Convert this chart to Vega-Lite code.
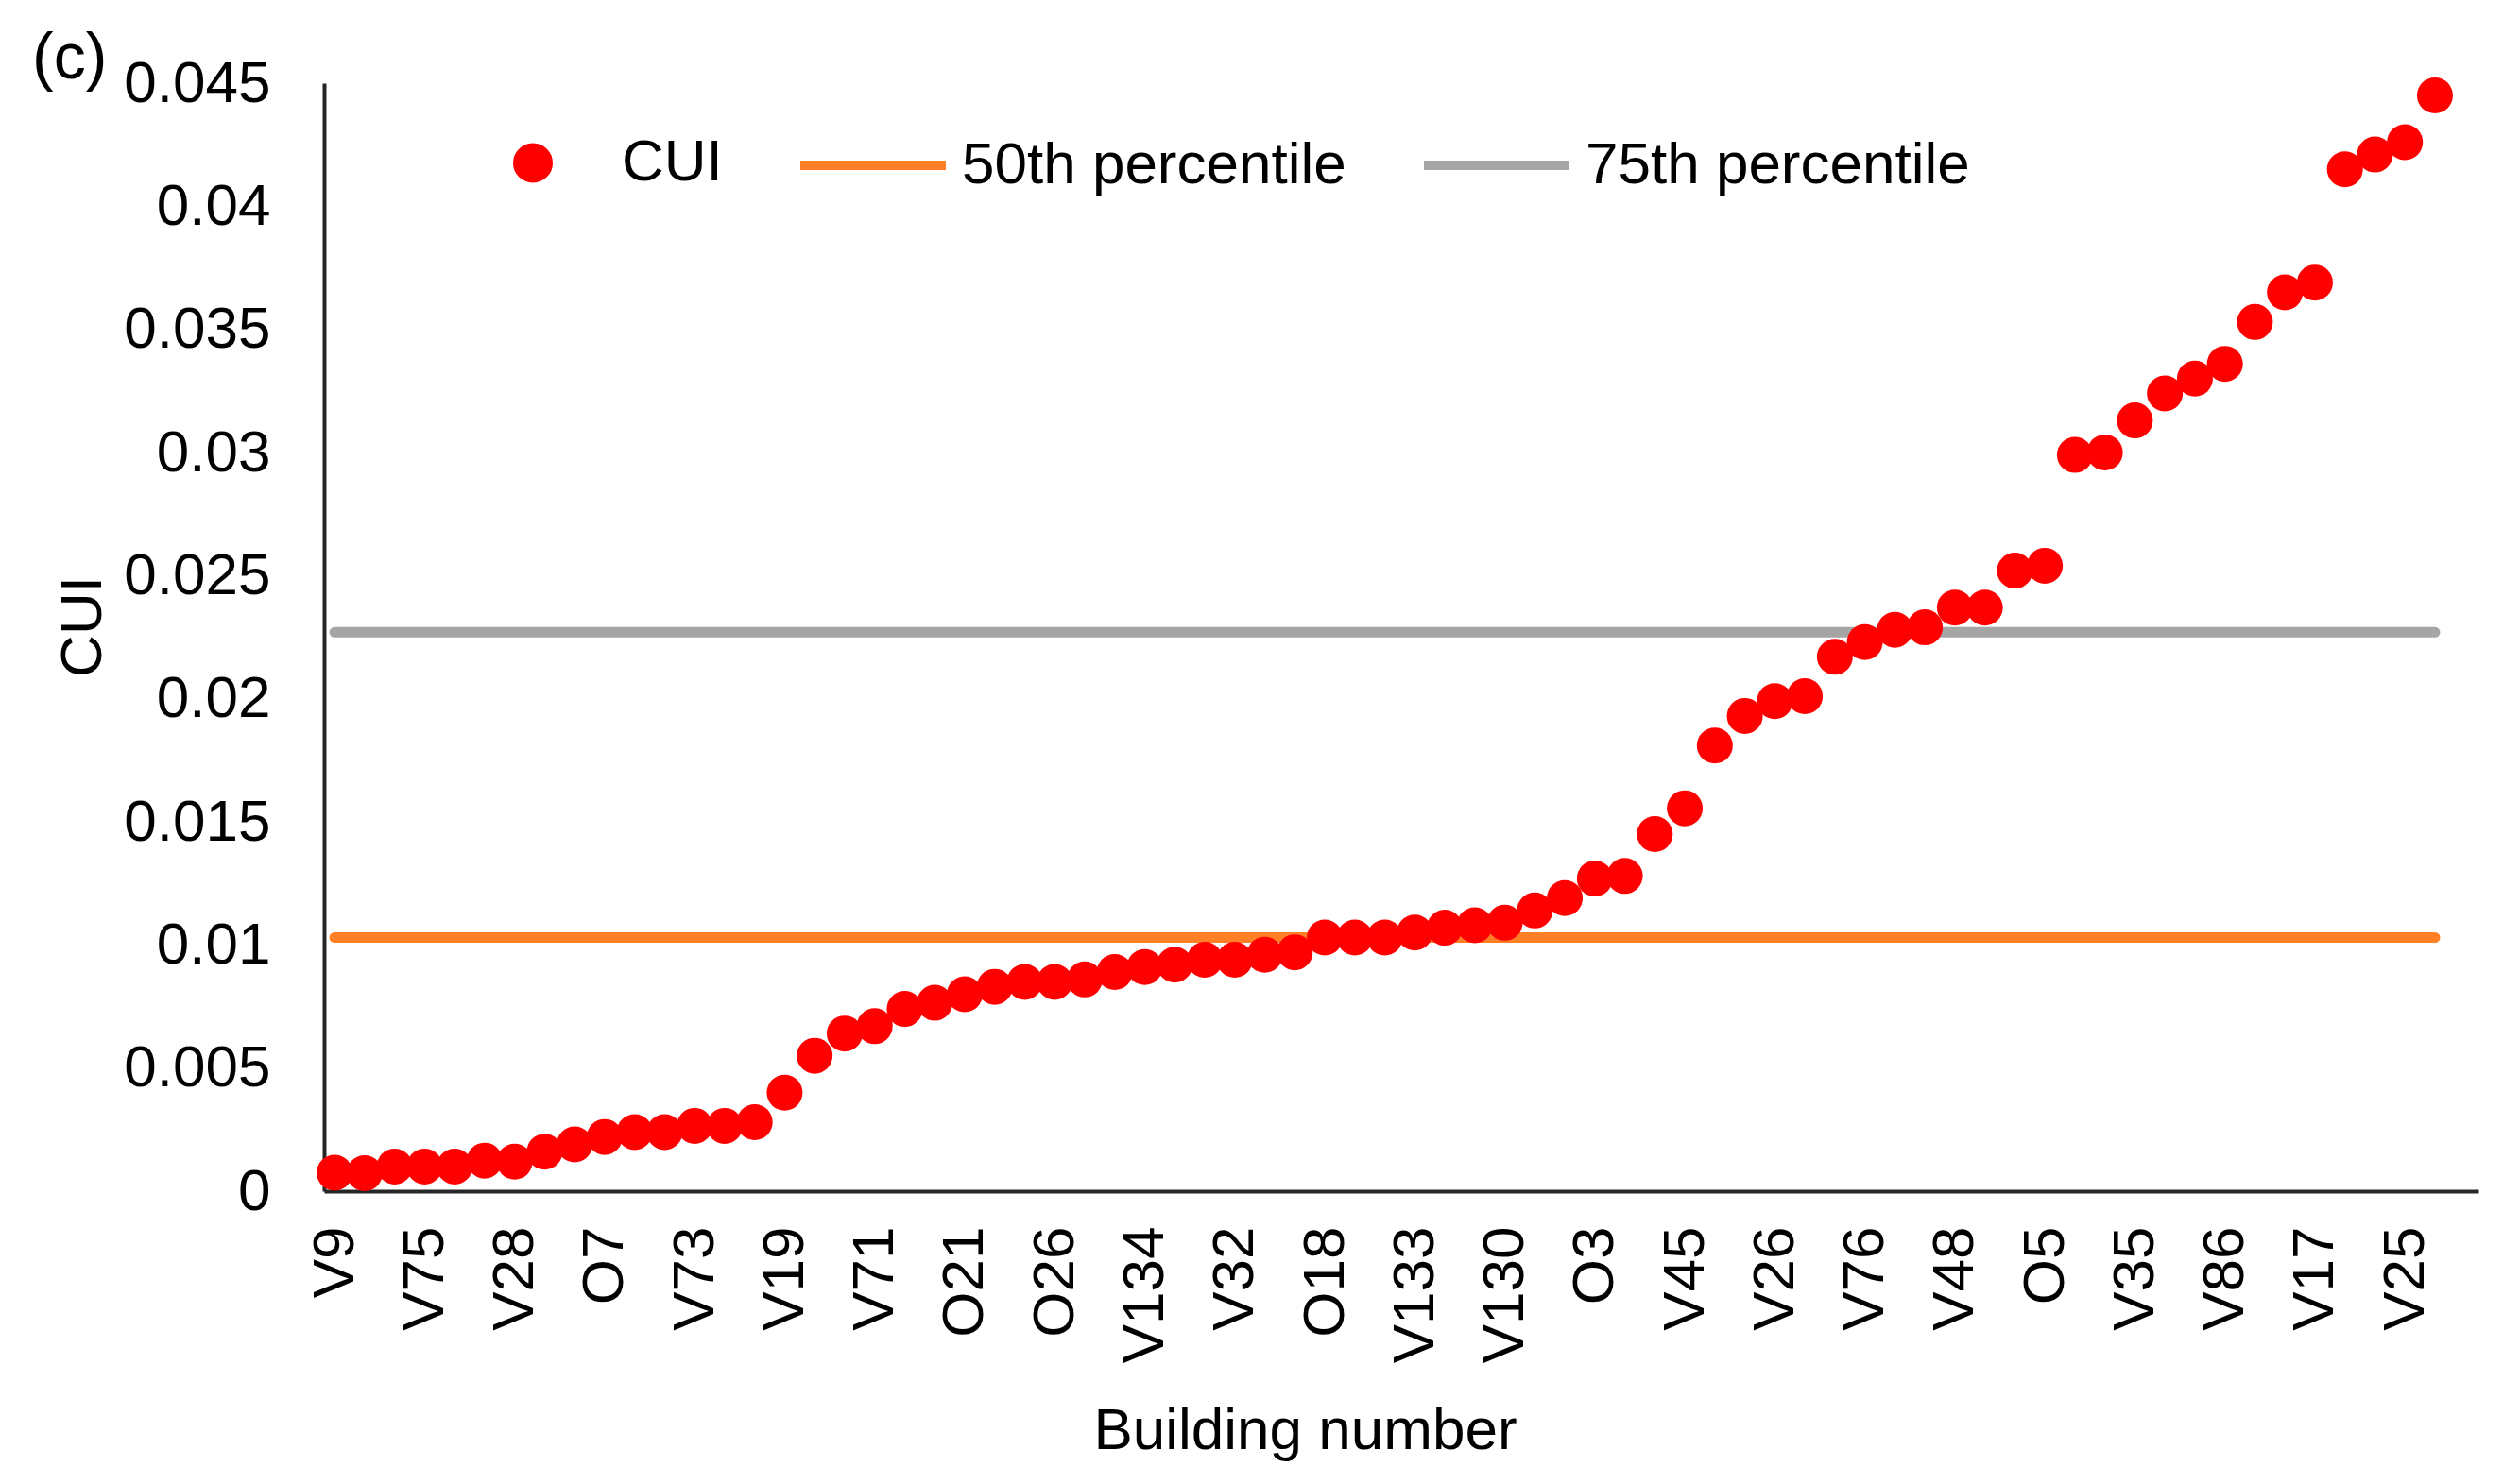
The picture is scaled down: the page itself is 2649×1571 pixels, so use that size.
{
  "$schema": "https://vega.github.io/schema/vega-lite/v6.json",
  "width": 2280,
  "height": 1173,
  "autosize": {"type": "none"},
  "padding": {"left": 343, "top": 88, "right": 26, "bottom": 310},
  "background": "white",
  "title": {"text": "(c)", "anchor": "start", "frame": "group", "dx": -309, "dy": 94, "offset": 0, "fontSize": 68, "font": "Liberation Sans", "fontWeight": "normal", "color": "#000000", "baseline": "alphabetic"},
  "config": {
    "view": {"stroke": null},
    "axis": {"grid": false, "ticks": false, "domainColor": "#262626", "domainWidth": 4, "labelFont": "Liberation Sans", "labelFontSize": 62, "labelColor": "#000000", "titleFont": "Liberation Sans", "titleFontSize": 62, "titleFontWeight": "normal", "titleColor": "#000000", "labelOverlap": false, "labelFlush": false, "labelBound": false}
  },
  "datasets": {
    "cui": [
      {"idx": 0, "building": "V9", "cui": 0.00075},
      {"idx": 1, "cui": 0.00073},
      {"idx": 2, "cui": 0.001},
      {"idx": 3, "building": "V75", "cui": 0.001},
      {"idx": 4, "cui": 0.001},
      {"idx": 5, "cui": 0.00124},
      {"idx": 6, "building": "V28", "cui": 0.0012},
      {"idx": 7, "cui": 0.0016},
      {"idx": 8, "cui": 0.0019},
      {"idx": 9, "building": "O7", "cui": 0.0022},
      {"idx": 10, "cui": 0.0024},
      {"idx": 11, "cui": 0.0024},
      {"idx": 12, "building": "V73", "cui": 0.00265},
      {"idx": 13, "cui": 0.00265},
      {"idx": 14, "cui": 0.0028},
      {"idx": 15, "building": "V19", "cui": 0.0040},
      {"idx": 16, "cui": 0.0055},
      {"idx": 17, "cui": 0.0064},
      {"idx": 18, "building": "V71", "cui": 0.0067},
      {"idx": 19, "cui": 0.0074},
      {"idx": 20, "cui": 0.00765},
      {"idx": 21, "building": "O21", "cui": 0.008},
      {"idx": 22, "cui": 0.0083},
      {"idx": 23, "cui": 0.0085},
      {"idx": 24, "building": "O26", "cui": 0.0085},
      {"idx": 25, "cui": 0.0086},
      {"idx": 26, "cui": 0.0089},
      {"idx": 27, "building": "V134", "cui": 0.0091},
      {"idx": 28, "cui": 0.0092},
      {"idx": 29, "cui": 0.0094},
      {"idx": 30, "building": "V32", "cui": 0.0094},
      {"idx": 31, "cui": 0.0096},
      {"idx": 32, "cui": 0.0097},
      {"idx": 33, "building": "O18", "cui": 0.0103},
      {"idx": 34, "cui": 0.0103},
      {"idx": 35, "cui": 0.0103},
      {"idx": 36, "building": "V133", "cui": 0.0105},
      {"idx": 37, "cui": 0.0107},
      {"idx": 38, "cui": 0.0108},
      {"idx": 39, "building": "V130", "cui": 0.0109},
      {"idx": 40, "cui": 0.0114},
      {"idx": 41, "cui": 0.0119},
      {"idx": 42, "building": "O3", "cui": 0.0127},
      {"idx": 43, "cui": 0.0128},
      {"idx": 44, "cui": 0.0145},
      {"idx": 45, "building": "V45", "cui": 0.01555},
      {"idx": 46, "cui": 0.0181},
      {"idx": 47, "cui": 0.0193},
      {"idx": 48, "building": "V26", "cui": 0.0199},
      {"idx": 49, "cui": 0.0201},
      {"idx": 50, "cui": 0.0217},
      {"idx": 51, "building": "V76", "cui": 0.0223},
      {"idx": 52, "cui": 0.0228},
      {"idx": 53, "cui": 0.0229},
      {"idx": 54, "building": "V48", "cui": 0.0237},
      {"idx": 55, "cui": 0.0237},
      {"idx": 56, "cui": 0.0252},
      {"idx": 57, "building": "O5", "cui": 0.0254},
      {"idx": 58, "cui": 0.0299},
      {"idx": 59, "cui": 0.03},
      {"idx": 60, "building": "V35", "cui": 0.0313},
      {"idx": 61, "cui": 0.0324},
      {"idx": 62, "cui": 0.0330},
      {"idx": 63, "building": "V86", "cui": 0.0336},
      {"idx": 64, "cui": 0.0353},
      {"idx": 65, "cui": 0.0365},
      {"idx": 66, "building": "V17", "cui": 0.0369},
      {"idx": 67, "cui": 0.0415},
      {"idx": 68, "cui": 0.0421},
      {"idx": 69, "building": "V25", "cui": 0.0426},
      {"idx": 70, "cui": 0.0445}
    ],
    "pct": [
      {"series": "50th percentile", "value": 0.0103},
      {"series": "75th percentile", "value": 0.0227}
    ]
  },
  "layer": [
    {
      "data": {"name": "pct"},
      "mark": {"type": "rule", "strokeWidth": 11, "strokeCap": "round"},
      "encoding": {
        "x": {"datum": 0, "type": "quantitative",
          "scale": {"domain": [-0.35, 71.45], "nice": false, "zero": false},
          "axis": {"title": "Building number", "values": [0,3,6,9,12,15,18,21,24,27,30,33,36,39,42,45,48,51,54,57,60,63,66,69],
            "labelExpr": "['V9','V75','V28','O7','V73','V19','V71','O21','O26','V134','V32','O18','V133','V130','O3','V45','V26','V76','V48','O5','V35','V86','V17','V25'][round(datum.value/3)]",
            "labelAngle": -90, "labelAlign": "right", "labelBaseline": "middle", "labelPadding": 37,
            "titleX": 1038, "titleY": 272, "titleAlign": "center", "titleBaseline": "alphabetic"}},
        "x2": {"datum": 70},
        "y": {"field": "value", "type": "quantitative",
          "scale": {"domain": [0, 0.045], "nice": false, "zero": true},
          "axis": {"title": "CUI", "values": [0,0.005,0.01,0.015,0.02,0.025,0.03,0.035,0.04,0.045], "format": ".3~f",
            "labelPadding": 57, "titleX": -256, "titleY": 575, "titleAngle": -90, "titleAlign": "center", "titleBaseline": "middle"}},
        "color": {"field": "series", "type": "nominal",
          "scale": {"domain": ["CUI", "50th percentile", "75th percentile"], "range": ["#FF0000", "#FF7F27", "#A5A5A5"]},
          "legend": {"title": null, "orient": "none", "legendX": 139, "legendY": 2, "direction": "horizontal", "padding": 0,
            "labelFont": "Liberation Sans", "labelFontSize": 62, "labelColor": "#000000", "labelOffset": 12, "labelLimit": 0,
            "columnPadding": 62, "symbolType": "stroke", "symbolSize": 23716, "symbolStrokeWidth": 10,
            "encode": {"symbols": {"update": {
              "shape": {"signal": "datum.value === 'CUI' ? 'M-0.2078,0A0.2078,0.2078 0 1,1 0.2078,0A0.2078,0.2078 0 1,1 -0.2078,0Z' : 'stroke'"},
              "fill": {"signal": "datum.value === 'CUI' ? '#FF0000' : 'transparent'"},
              "stroke": {"signal": "datum.value === 'CUI' ? 'transparent' : scale('color', datum.value)"},
              "opacity": {"value": 1}
            }}}}}
      }
    },
    {
      "data": {"name": "cui"},
      "mark": {"type": "circle", "size": 1444, "opacity": 1},
      "encoding": {
        "x": {"field": "idx", "type": "quantitative"},
        "y": {"field": "cui", "type": "quantitative"},
        "color": {"datum": "CUI"}
      }
    }
  ]
}
